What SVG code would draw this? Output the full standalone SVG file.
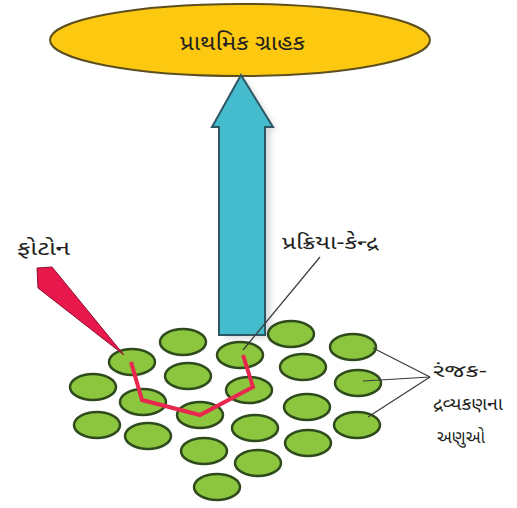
<svg xmlns="http://www.w3.org/2000/svg" width="517" height="508" viewBox="0 0 517 508">
<defs>
<style>
.mol{fill:#8cc63e;stroke:#2f4a1c;stroke-width:2.5}
.lbl{font-family:"Noto Sans Gujarati","Lohit Gujarati","Noto Sans","DejaVu Sans",sans-serif;fill:#231f20}
.lead{stroke:#3a3a3a;stroke-width:1.2;fill:none}
</style>
<filter id="sh" x="-20%" y="-10%" width="140%" height="120%">
<feGaussianBlur stdDeviation="3"/>
</filter>
</defs>
<rect width="517" height="508" fill="#ffffff"/>
<g id="primary-acceptor">
<ellipse cx="240" cy="40" rx="190" ry="36" fill="#fcc810" stroke="#5e4f1e" stroke-width="2"/>
<text class="lbl" x="180" y="50" font-size="22" textLength="125" lengthAdjust="spacingAndGlyphs">પ્રાથમિક ગ્રાહક</text>
</g>
<g id="transfer-arrow">
<path d="M244,78 L276,130 L270,130 L270,338 L226,338 L226,130 L220,130 Z" fill="#888" opacity="0.35" filter="url(#sh)"/>
<path d="M241,75 L273,127 L265,127 L265,335 L219,335 L219,127 L212,127 Z" fill="#45bccd" stroke="#2e5766" stroke-width="2"/>
</g>
<g id="molecules">
<ellipse class="mol" cx="132" cy="362" rx="23" ry="13"/>
<ellipse class="mol" cx="183" cy="342" rx="23" ry="13"/>
<ellipse class="mol" cx="240" cy="355" rx="23" ry="13"/>
<ellipse class="mol" cx="291" cy="334" rx="23" ry="13"/>
<ellipse class="mol" cx="353" cy="347" rx="23" ry="13"/>
<ellipse class="mol" cx="93" cy="387" rx="23" ry="13"/>
<ellipse class="mol" cx="188" cy="376" rx="23" ry="13"/>
<ellipse class="mol" cx="143" cy="402" rx="23" ry="13"/>
<ellipse class="mol" cx="249" cy="390" rx="23" ry="13"/>
<ellipse class="mol" cx="303" cy="367" rx="23" ry="13"/>
<ellipse class="mol" cx="358" cy="383" rx="23" ry="13"/>
<ellipse class="mol" cx="97" cy="425" rx="23" ry="13"/>
<ellipse class="mol" cx="200" cy="415" rx="23" ry="13"/>
<ellipse class="mol" cx="148" cy="436" rx="23" ry="13"/>
<ellipse class="mol" cx="255" cy="428" rx="23" ry="13"/>
<ellipse class="mol" cx="307" cy="407" rx="23" ry="13"/>
<ellipse class="mol" cx="357" cy="425" rx="23" ry="13"/>
<ellipse class="mol" cx="204" cy="451" rx="23" ry="13"/>
<ellipse class="mol" cx="258" cy="463" rx="23" ry="13"/>
<ellipse class="mol" cx="308" cy="443" rx="23" ry="13"/>
<ellipse class="mol" cx="217" cy="487" rx="23" ry="13"/>
</g>
<g id="photon">
<polygon points="37,268 52,267 124,355 38,288" fill="#e8184c" stroke="#8a1030" stroke-width="1"/>
<text class="lbl" x="17" y="255" font-size="19" textLength="53" lengthAdjust="spacingAndGlyphs">ફોટોન</text>
</g>
<g id="connectors">
<polyline points="131,362 142,400 200,415 253,387 243,355" fill="none" stroke="#e8274f" stroke-width="4" stroke-linejoin="miter"/>
<line class="lead" x1="320" y1="257" x2="243" y2="350"/>
<line class="lead" x1="430" y1="377" x2="373" y2="348"/>
<line class="lead" x1="430" y1="377" x2="363" y2="381"/>
<line class="lead" x1="430" y1="377" x2="368" y2="417"/>
</g>
<g id="reaction-centre">
<text class="lbl" x="282" y="249" font-size="19" textLength="96" lengthAdjust="spacingAndGlyphs">પ્રક્રિયા-કેન્દ્ર</text>
</g>
<g id="pigment-label">
<text class="lbl" x="433" y="377" font-size="18" textLength="54" lengthAdjust="spacingAndGlyphs">રંજક-</text>
<text class="lbl" x="433" y="410" font-size="18" textLength="70" lengthAdjust="spacingAndGlyphs">દ્રવ્યકણના</text>
<text class="lbl" x="437" y="443" font-size="18" textLength="48" lengthAdjust="spacingAndGlyphs">અણુઓ</text>
</g>
</svg>
